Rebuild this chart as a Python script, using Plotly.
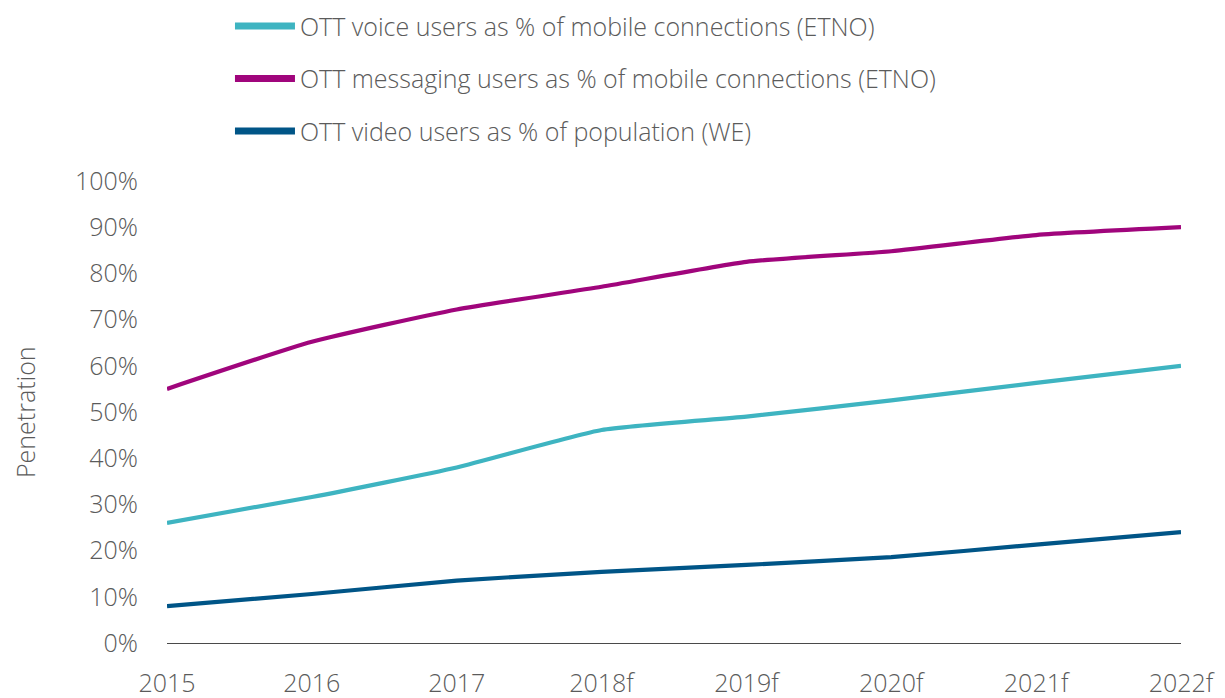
import plotly.graph_objects as go

years = ["2015", "2016", "2017", "2018f", "2019f", "2020f", "2021f", "2022f"]
voice = [26.0, 31.6, 38.0, 46.1, 49.0, 52.5, 56.3, 60.0]
messaging = [55.0, 65.2, 72.2, 77.1, 82.5, 84.8, 88.3, 90.0]
video = [8.0, 10.6, 13.5, 15.4, 16.9, 18.6, 21.3, 24.0]
y_ticks = [0, 10, 20, 30, 40, 50, 60, 70, 80, 90, 100]
y_tick_labels = [f"{v}%" for v in y_ticks]
y_title = "Penetration"

names = [
    "OTT voice users as % of mobile connections (ETNO)",
    "OTT messaging users as % of mobile connections (ETNO)",
    "OTT video users as % of population (WE)",
]
colors = ["#3EB4C1", "#A0057C", "#005587"]
series = [voice, messaging, video]

xpos = list(range(len(years)))
fig = go.Figure()
for i, (nm, col, vals) in enumerate(zip(names, colors, series)):
    fig.add_trace(go.Scatter(
        x=xpos, y=vals, name=nm, mode="lines",
        line=dict(color=col, width=4.2, shape="spline", smoothing=0.5),
        showlegend=False, cliponaxis=False, legendgroup=f"g{i}",
    ))
    # legend entry (thicker swatch as in the reference)
    fig.add_trace(go.Scatter(
        x=[None], y=[None], name=nm, mode="lines",
        line=dict(color=col, width=7), legendgroup=f"g{i}",
        showlegend=True,
    ))

font_family = "Open Sans"
text_col = "#5b5b5b"
fs = 25
fig.update_layout(
    width=1225, height=698,
    margin=dict(l=159, r=52, t=173, b=63, autoexpand=False),
    paper_bgcolor="white", plot_bgcolor="white",
    font=dict(family=font_family, size=fs, color=text_col, weight=300),
    showlegend=True,
    legend=dict(
        x=0.1812, xanchor="left", y=1.385, yanchor="top",
        xref="container", yref="paper",
        traceorder="grouped", tracegroupgap=17,
        itemwidth=60,
        font=dict(family=font_family, size=fs, color=text_col, weight=300),
        bgcolor="rgba(0,0,0,0)",
    ),
    xaxis=dict(
        tickmode="array", tickvals=xpos, ticktext=years,
        range=[0, len(years) - 1], automargin=False,
        showgrid=False, zeroline=False,
        showline=True, linecolor="#4a4a4a", linewidth=1,
        ticks="", ticklabelstandoff=18,
        tickfont=dict(size=fs, color=text_col),
    ),
    yaxis=dict(
        range=[0, 100], tickmode="array", tickvals=y_ticks, ticktext=y_tick_labels,
        showgrid=False, zeroline=False, showline=False, automargin=False,
        ticks="", ticklabelstandoff=28,
        tickfont=dict(size=fs, color=text_col),
    ),
    annotations=[dict(
        text=y_title, textangle=-90, xref="paper", yref="paper",
        x=-0.140, y=0.5, xanchor="center", yanchor="middle", showarrow=False,
        font=dict(family=font_family, size=fs, color=text_col, weight=300),
    )],
)

fig.write_html("out.html")
